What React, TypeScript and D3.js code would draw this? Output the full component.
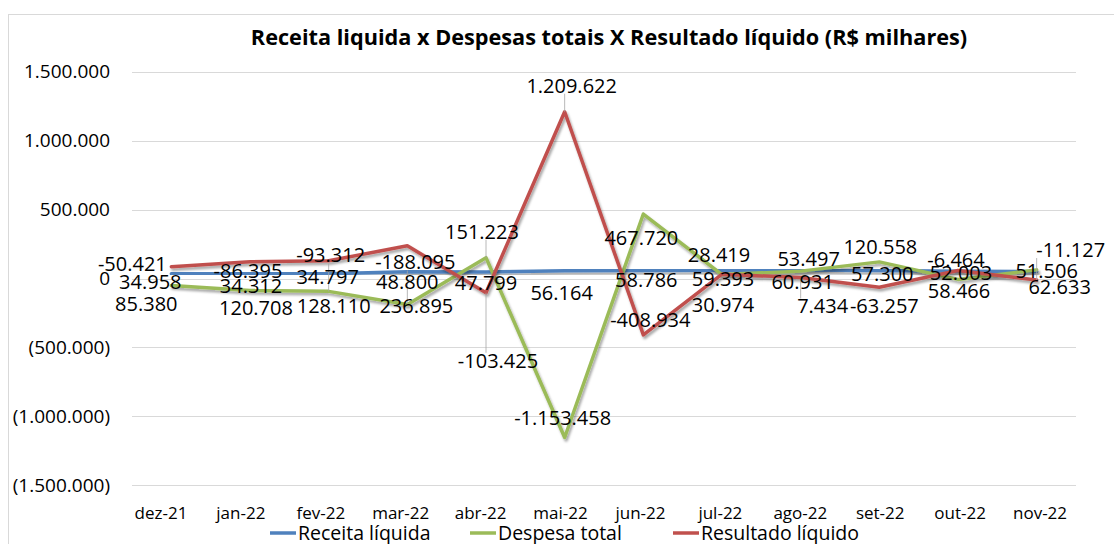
import React from 'react';
import * as d3 from 'd3';

const categories = ['dez-21', 'jan-22', 'fev-22', 'mar-22', 'abr-22', 'mai-22', 'jun-22', 'jul-22', 'ago-22', 'set-22', 'out-22', 'nov-22'];
const receitaLiquida = [34958, 34312, 34797, 48800, 47799, 56164, 58786, 59393, 60931, 57300, 52003, 51506];
const despesaTotal = [-50421, -86395, -93312, -188095, 151223, -1153458, 467720, 28419, 53497, 120558, -6464, 62633];
const resultadoLiquido = [85380, 120708, 128110, 236895, -103425, 1209622, -408934, 30974, 7434, -63257, 58466, -11127];
const yTicks = [-1500000, -1000000, -500000, 0, 500000, 1000000, 1500000];
const seriesNames = ['Receita líquida', 'Despesa total', 'Resultado líquido'];
const title = 'Receita liquida x Despesas totais X Resultado líquido (R$ milhares)';

// label layout (offsets from the point, px)
const receitaLabelOffset = [[-21, 8], [1, 12], [-1, 3], [0, 10], [0, 11], [-3, 22], [3, 10], [1, 9], [2, 12], [3, 3], [3, 2], [10, 0]];
const despesaLabelOffset = [[-39, -21], [-2, -19], [2, -36], [8, -42], [-4, -26], [-2, -20], [-2, 24], [-3, -20], [8, -12], [1, -15], [-2, -19], [23, 17]];
const resultadoLabelOffset = [[-25, 37], [6, 46], [5, 45], [9, 60], [12, 68], [7, -26], [7, -15], [1, 31], [22, 29], [5, 19], [1, 21], [34, -30]];
const leaders = [[0, 0], [1, 2], [1, 3], [1, 4], [2, 4], [2, 5], [2, 8], [2, 11]];

const colors = ['#4F81BD', '#9BBB59', '#C0504D'];

const locale = d3.formatLocale({ decimal: ',', thousands: '.', grouping: [3], currency: ['R$', ''], minus: '-' });
const fmt = locale.format(',d');
const tickFmt = (v: number) => (v < 0 ? `(${fmt(-v)})` : fmt(v));

const FONT = "'Open Sans', sans-serif";

export default function App() {
  const W = 1114, H = 544;
  const plotL = 132, plotR = 1076;
  const x = d3.scaleBand<string>().domain(categories).range([plotL, plotR]);
  const cx = (c: string) => (x(c) as number) + x.bandwidth() / 2;
  const xl = d3.scaleBand<string>().domain(categories).range([121, 1080]);
  const y = d3.scaleLinear().domain([-1500000, 1500000]).range([485.3, 71.7]);
  const line = d3.line<number>().x((_, i) => cx(categories[i])).y(v => y(v));

  const series = [receitaLiquida, despesaTotal, resultadoLiquido];
  const offsets = [receitaLabelOffset, despesaLabelOffset, resultadoLabelOffset];
  const labelFont = 20;
  const charW = (s: string) => {
    let w = 0;
    for (const ch of s) w += ch === '.' ? 0.27 : ch === '-' ? 0.32 : 0.572;
    return w * labelFont;
  };

  const legendItems = [
    { x: 270, name: seriesNames[0], color: colors[0] },
    { x: 470, name: seriesNames[1], color: colors[1] },
    { x: 673, name: seriesNames[2], color: colors[2] },
  ];

  return (
    <svg width={W} height={H} style={{ position: 'absolute', left: 0, top: 0, background: '#fff' }} fontFamily={FONT}>
      <defs>
        <filter id="shadow" x="-10%" y="-10%" width="120%" height="130%">
          <feDropShadow dx="1.5" dy="2.5" stdDeviation="1.3" floodColor="#000" floodOpacity="0.35" />
        </filter>
      </defs>
      <rect x={8.5} y={14.5} width={1110} height={540} fill="#fff" stroke="#D9D9D9" strokeWidth={1} />
      <text x={609} y={37} textAnchor="middle" dy="0.35em" fontWeight="bold" fontSize={21.7} fill="#000">{title}</text>

      {yTicks.map(t => (
        <g key={t}>
          <line x1={plotL} x2={plotR} y1={Math.round(y(t)) + 0.5} y2={Math.round(y(t)) + 0.5} stroke="#D9D9D9" strokeWidth={1} />
          <text x={110} y={y(t)} dy="0.35em" textAnchor="end" fontSize={19} fill="#000">{tickFmt(t)}</text>
        </g>
      ))}

      {categories.map(c => (
        <text key={c} x={(xl(c) as number) + xl.bandwidth() / 2} y={513} dy="0.35em" textAnchor="middle" fontSize={17} fill="#000">{c}</text>
      ))}

      {series.map((s, si) => (
        <path key={si} d={line(s) || ''} fill="none" stroke={colors[si]} strokeWidth={3.5} strokeLinejoin="round" strokeLinecap="round" filter="url(#shadow)" />
      ))}

      {leaders.map(([si, i]) => {
        const px = cx(categories[i]);
        const py = y(series[si][i]);
        const [dx, dy] = offsets[si][i];
        const lx = px + dx, ly = py + dy;
        const txt = fmt(series[si][i]);
        const hw = charW(txt) / 2, hh = 8;
        const ex = Math.max(lx - hw, Math.min(px, lx + hw));
        const ey = Math.max(ly - hh, Math.min(py, ly + hh));
        return <line key={`l${si}-${i}`} x1={ex} y1={ey} x2={px} y2={py} stroke="#A6A6A6" strokeWidth={0.8} />;
      })}

      {series.map((s, si) => s.map((v, i) => {
        const [dx, dy] = offsets[si][i];
        return (
          <text key={`t${si}-${i}`} x={cx(categories[i]) + dx} y={y(v) + dy} dy="0.35em" textAnchor="middle" fontSize={labelFont} fill="#000">{fmt(v)}</text>
        );
      }))}

      {legendItems.map(it => (
        <g key={it.name}>
          <line x1={it.x} x2={it.x + 26} y1={533} y2={533} stroke={it.color} strokeWidth={3.5} />
          <text x={it.x + 28} y={533} dy="0.35em" fontSize={19.5} fill="#000">{it.name}</text>
        </g>
      ))}
    </svg>
  );
}
